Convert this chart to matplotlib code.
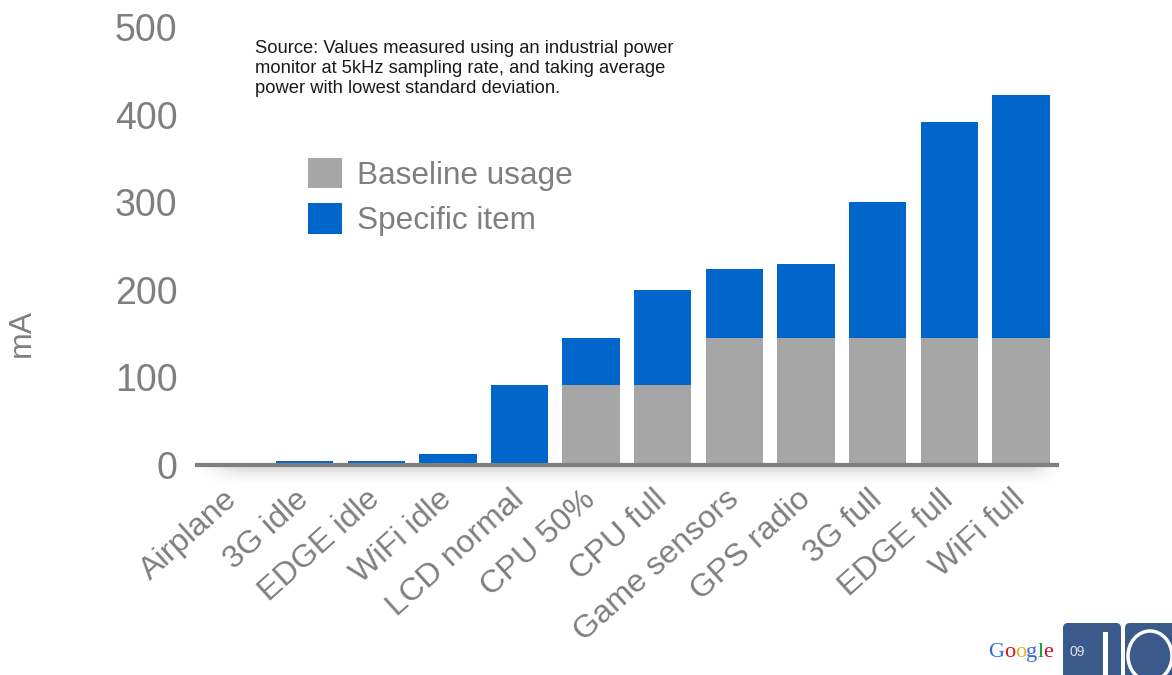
import matplotlib.pyplot as plt
import numpy as np
from matplotlib.patches import FancyBboxPatch, Ellipse, Rectangle

plt.rcParams['font.family'] = ['Liberation Sans', 'DejaVu Sans']

categories = ["Airplane", "3G idle", "EDGE idle", "WiFi idle", "LCD normal", "CPU 50%",
              "CPU full", "Game sensors", "GPS radio", "3G full", "EDGE full", "WiFi full"]
baseline = [0, 0, 0, 0, 0, 91, 91, 145, 145, 145, 145, 145]
specific = [2, 5, 5, 13, 91, 54, 109, 79, 85, 155, 247, 277]
yticks = [0, 100, 200, 300, 400, 500]

W, H = 1172, 675
gray_bar = "#a6a6a6"
blue_bar = "#0066cc"
text_gray = "#7f7f7f"

fig = plt.figure(figsize=(W / 100, H / 100), dpi=100)
ax = fig.add_axes([197 / W, (H - 465) / H, (1057 - 197) / W, 438 / H])

x = np.arange(len(categories))
b1 = ax.bar(x, baseline, width=0.8, color=gray_bar, label="Baseline usage", zorder=2)
b2 = ax.bar(x, specific, width=0.8, bottom=baseline, color=blue_bar, label="Specific item", zorder=2)

ax.set_xlim(-0.5, len(categories) - 0.5)
ax.set_ylim(0, 500)
for s in ax.spines.values():
    s.set_visible(False)
ax.axhline(0, color="#7f7f7f", lw=3, zorder=3, clip_on=False)

ax.set_yticks(yticks)
ax.tick_params(axis="y", length=0, pad=14, labelsize=27, labelcolor=text_gray)
ax.set_xticks(x)
ax.set_xticklabels(categories, rotation=42, ha="right", va="center", rotation_mode="anchor")
ax.tick_params(axis="x", length=0, pad=22, labelsize=23.3, labelcolor=text_gray)

fig.text(22 / W, 1 - 333 / H, "mA", rotation=90, ha="center", va="center",
         fontsize=23, color=text_gray)

fig.text(255 / W, 1 - 40 / H,
         "Source: Values measured using an industrial power\n"
         "monitor at 5kHz sampling rate, and taking average\n"
         "power with lowest standard deviation.",
         ha="left", va="top", fontsize=13.2, color="#1a1a1a", linespacing=1.22)

ax.legend(handles=[b1, b2], loc="upper left", bbox_to_anchor=(308 / W, 1 - 158 / H),
          bbox_transform=fig.transFigure, frameon=False, fontsize=22.7,
          labelcolor=text_gray, handlelength=1.08, handleheight=1.1,
          handletextpad=0.48, labelspacing=0.4, borderpad=0, borderaxespad=0)

# overlay in pixel coordinates for the shadow and the logo
ov = fig.add_axes([0, 0, 1, 1])
ov.axis("off")

# soft shadow below the zero line
sx = np.linspace(0, 1, 400)
sy = np.linspace(0, 1, 40)
hx = np.clip(np.minimum(sx / 0.05, (1 - sx) / 0.03), 0, 1)
vy = (1 - sy) ** 1.6
shade = np.zeros((len(sy), len(sx), 4))
shade[..., :3] = 0.35
shade[..., 3] = vy[:, None] * hx[None, :] * 0.22
ov.imshow(shade, extent=(198, 1057, 486, 467), aspect="auto", interpolation="bilinear")
ov.set_xlim(0, W)
ov.set_ylim(H, 0)

# Google wordmark
letters = ["G", "o", "o", "g", "l", "e"]
letter_colors = ["#3369e8", "#d50f25", "#eeb211", "#3369e8", "#009925", "#d50f25"]
t = ov.text(988, 657, letters[0], color=letter_colors[0], fontsize=16,
            family="Liberation Serif", ha="left", va="baseline")
for ch, c in zip(letters[1:], letter_colors[1:]):
    t = ov.annotate(ch, xy=(1, 0), xycoords=t, va="bottom", ha="left", color=c,
                    fontsize=16, family="Liberation Serif")

# I/O badge
io_blue = "#3a5a8c"
ov.add_patch(FancyBboxPatch((1063, 623), 58, 60, boxstyle="round,pad=0,rounding_size=5",
                            fc=io_blue, ec="none"))
ov.add_patch(FancyBboxPatch((1125, 623), 60, 60, boxstyle="round,pad=0,rounding_size=5",
                            fc=io_blue, ec="none"))
ov.text(1077, 652, "09", color="#dde3ee", fontsize=10, ha="center", va="center")
ov.add_patch(Rectangle((1103, 632), 5, 50, fc="white", ec="none"))
ov.add_patch(Ellipse((1150, 656), 44, 50, fc="none", ec="white", lw=2.5))

fig.savefig("out.png", dpi=100)
